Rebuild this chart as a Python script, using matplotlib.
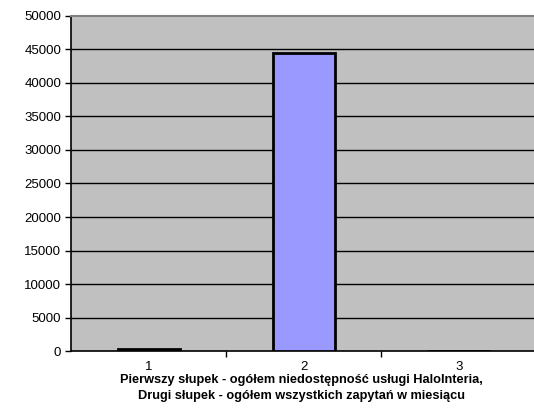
import matplotlib
matplotlib.use("Agg")
import matplotlib.pyplot as plt

plt.rcParams['font.family'] = ['Liberation Sans', 'DejaVu Sans']

# data
categories = ["1", "2", "3"]
values = [250, 44500, 0]
yticks = [0, 5000, 10000, 15000, 20000, 25000, 30000, 35000, 40000, 45000, 50000]
xlabel = ("Pierwszy słupek - ogółem niedostępność usługi HaloInteria,\n"
          "Drugi słupek - ogółem wszystkich zapytań w miesiącu")

fig = plt.figure(figsize=(5.34, 4.17), dpi=100)
ax = fig.add_axes([0.133, 0.158, 0.872, 0.804])
ax.set_facecolor("#c0c0c0")

x = list(range(len(categories)))
ax.bar(x, values, width=0.4, color="#9999ff", edgecolor="black", linewidth=2, zorder=3)

ax.set_xlim(-0.5, 2.5)
ax.set_ylim(0, 50000)
ax.set_yticks(yticks)
ax.set_yticklabels([str(v) for v in yticks], fontsize=9.5)
for y in yticks[1:-1]:
    ax.axhline(y, color="black", linewidth=1, zorder=1)

# category labels centered, tick marks on boundaries
ax.set_xticks([0.5, 1.5])
ax.set_xticklabels([])
ax.tick_params(axis='x', length=4, width=1)
ax.tick_params(axis='y', length=4, width=1, pad=3)
for xi, c in zip(x, categories):
    ax.text(xi, -0.03, c, transform=ax.get_xaxis_transform(), ha='center', va='top', fontsize=9.5)

for s in ['top', 'right']:
    ax.spines[s].set_color("#808080")
    ax.spines[s].set_linewidth(1.5)
ax.spines['left'].set_linewidth(1.2)
ax.spines['bottom'].set_linewidth(1.2)

fig.text(0.565, 0.103, xlabel, ha='center', va='top',
         fontsize=9.2, fontweight='bold', linespacing=1.4)

fig.savefig("out.png", dpi=100, facecolor="white")
